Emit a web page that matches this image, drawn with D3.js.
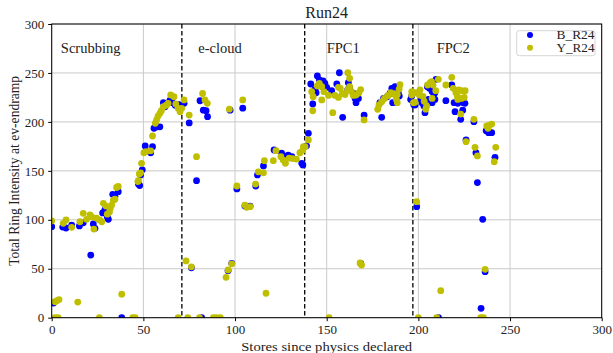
<!DOCTYPE html>
<html><head><meta charset="utf-8">
<script src="https://cdn.jsdelivr.net/npm/d3@7"></script>
<style>body{margin:0;background:#fff}svg{display:block}text{font-family:"Liberation Serif",serif;fill:#222}</style>
</head><body><svg id="c" width="613" height="353"></svg>
<script>
// ---- data ----
const xBlue = [0,1,6,7.8,10.9,15.1,17.2,21.3,22.7,23.6,27.8,29,30.3,30.9,33.3,34.5,36.3,38.2,47.3,48,48.5,49.4,
 51,54,55,55.8,57.6,59,60.9,61.8,64.5,65.8,67.4,69,70.6,72.2,
 75,79,80.9,82.7,84.2,85,97.3,104.2,81.8,76.2,96.2,98.2,101,105.4,108.2,111.3,112.2,115.5,121.3,125.4,126.3,129,131,136.4,137,139,140,
 141.3,142.4,143.6,144.2,144.9,146,147,148,149,150,152.7,155.5,156.9,158.7,161.8,161.5,162.5,164.5,165.5,167.3,166,170.4,168.5,179,180,181,183,184.5,185.5,187.3,186,188,189.6,189,195.8,197.3,198.2,
 196.4,197.6,199.1,201.3,202,203,203.6,204.9,206,207.5,208.5,209,205.5,207.5,209,209.6,211,215,218.2,219.5,221.5,222.5,224.5,225.4,220,224.2,223.1,226,230.3,231.4,232.2,234.2,235.1,236.4,237,238.3,240,241.8];
const yBlue = [93,15,92.6,91.6,94.6,93.7,97,64,95.7,91.3,107,110,103,100.5,126,124,128.7,0,136.6,135,145.8,151,
 175.4,168.5,174.7,193.5,195,195,219.6,215.5,222,219.6,217,218,217,219,
 199,140,221.6,212,211.5,205.3,212,214,0,51,48,55.5,131.5,114,114,134.5,145.8,155,171.3,168,165,166,164.5,157.7,156,175.6,188.3,
 238.7,218.3,233.3,229.8,246.9,242.8,237.7,242,239.4,235.3,231.9,238.7,250.2,204.7,240,233,235,229,224,224,219.6,207,55.5,219.6,204.7,224,225.7,229,234.3,236,219.6,219.6,226.4,229.8,223,219,217.3,
 226.4,217.3,113.4,223,219.6,216.3,209.4,236,234.3,231,228.5,229.8,223,219.6,223,243.5,0,221.7,237.7,219.6,219,220.6,219.6,219,210.4,212,202.6,181.5,200.2,168.5,138,9.6,100.5,47,191,189,189,163.8];
const xYellow = [0,1.8,3,4,1.8,3.5,6.3,7.8,10.9,14.2,15.4,17.2,19,20.9,21.8,23,24.5,26,26,27.3,28.2,29.6,30.3,31.5,32,32.7,33.6,34.5,35.4,36.3,38.2,44.2,45.5,47,47.3,47.8,48.5,49,
 50.3,51.4,54,55,56.5,57.2,58,59,59.8,60.9,62.5,63.5,64.9,66.7,67.7,69,70,70.9,69,
 72.2,73.3,74.2,75,76.2,79,80.6,82.3,83.6,84.9,88.2,90,92,95.1,96.2,96.9,98.2,101,104.2,105.4,106.4,108.2,111.2,112.7,115.5,116,116.9,120.9,122.3,125,126.3,127.5,129.5,131.5,133.5,135.4,136.9,137.3,138.2,140,
 141.8,142.6,142.4,144.9,146,147.3,148.5,147.3,151.3,151,153.3,154.5,156.4,157.4,156.4,158.5,160,161.5,162.5,162.5,161.5,163.5,164.5,166,167.5,168.5,168.2,169,170.4,177.8,178.5,180,181.5,183.1,183.5,185,187,188.5,190,189.5,188.5,188,196.4,198.2,200.5,
 196.4,198.2,197.3,199.1,200,200.9,202.5,203.2,204,204.5,205,206.5,207.2,208,209.5,207.5,210,210.9,212.2,215,218.2,219,220.5,221.3,222,223.5,225.5,221.5,223.5,225,223.1,226,230.3,230.9,232.2,234,235.5,236.4,237.3,238,238.8,240,242.2,241.4];
const yYellow = [98.8,16.3,17.5,18.5,0,0,96.4,99.8,92.3,16,98,106.6,100.5,105,103,90.5,101.6,100,0,98,116.8,114,105.7,108,112,115,120,121,133,134,24,0,0,139,140,146.8,148,157.7,
 168.5,169.6,170.5,185.6,198.6,202,206,208.8,211.4,215.5,217,219,227.5,225.7,218.3,213.9,210.4,213.9,0,
 222.4,58,0,207,52,164.5,0,229,222.4,219,0,0,0,41.2,48.7,213,55,134.5,222.4,115,112.8,113.4,136.5,149,148,160.4,25,160.4,170.6,164.5,161,157.7,163,162.5,162,168.5,171,174.7,174.7,181.6,
 230.9,225.7,211.4,236.7,239.4,236,230.9,222.4,0,227,209.4,227,235.3,234.3,225,229,228,250.2,244.5,236,232.6,231,227,227.5,229.5,233,56,53.8,202,212.8,217.3,220.6,224,226.4,227,230,228,228,238,233.5,219.6,223,227.5,220,227.5,
 231,230,219.6,118.5,0,232.6,226,221,213,216,237.7,240,241,237.7,231.9,224,0,243.5,27.6,237.7,245.5,234.3,229.8,225.7,232.6,231.9,231.9,223,224,225,208,179.8,202.6,174,165.2,0,0,49.4,195.8,193.5,196.8,197.8,174,159.3];
const phaseNames = ["Scrubbing","e-cloud","FPC1","FPC2"];
const phaseStart = [5,80,150,210];
const phaseBounds = [71,138,197];
const xTicks = [0,50,100,150,200,250,300];
const yTicks = [0,50,100,150,200,250,300];
const seriesNames = ["B_R24","Y_R24"];
const seriesColors = ["#0000ff","#bfbf00"];

// ---- chart ----
const svg = d3.select("#c");
const L=51.7,R=601.7,T=24,B=317.7;
const x = d3.scaleLinear().domain([0,300]).range([L,R]);
const y = d3.scaleLinear().domain([0,300]).range([B,T]);

svg.append("defs").append("clipPath").attr("id","clip")
  .append("rect").attr("x",L).attr("y",T).attr("width",R-L).attr("height",B-T);

// grid
const g = svg.append("g");
g.selectAll(".gx").data(xTicks).join("line")
  .attr("x1",d=>x(d)).attr("x2",d=>x(d)).attr("y1",T).attr("y2",B)
  .attr("stroke","#c9c9c9").attr("stroke-width",1);
g.selectAll(".gy").data(yTicks).join("line")
  .attr("x1",L).attr("x2",R).attr("y1",d=>y(d)).attr("y2",d=>y(d))
  .attr("stroke","#c9c9c9").attr("stroke-width",1);

// dashed phase boundaries
g.selectAll(".pb").data(phaseBounds).join("line")
  .attr("x1",d=>x(d)).attr("x2",d=>x(d)).attr("y1",T).attr("y2",B)
  .attr("stroke","#000").attr("stroke-width",1.3).attr("stroke-dasharray","4.5,2.5");

// points
const pts = svg.append("g").attr("clip-path","url(#clip)");
pts.selectAll(".b").data(xBlue.map((v,i)=>[v,yBlue[i]])).join("circle")
  .attr("cx",d=>x(d[0])).attr("cy",d=>y(d[1])).attr("r",3.4).attr("fill",seriesColors[0]);
pts.selectAll(".yy").data(xYellow.map((v,i)=>[v,yYellow[i]])).join("circle")
  .attr("cx",d=>x(d[0])).attr("cy",d=>y(d[1])).attr("r",3.4).attr("fill",seriesColors[1]);

// phase labels
svg.selectAll(".pl").data(phaseNames).join("text")
  .attr("x",(d,i)=>x(phaseStart[i])).attr("y",y(270))
  .attr("font-size",14.5).text(d=>d);

// axes
const ax = svg.append("g").attr("transform",`translate(0,${B})`)
  .call(d3.axisBottom(x).tickValues(xTicks).tickSize(3.5).tickPadding(3.5).tickFormat(d3.format("d")));
const ay = svg.append("g").attr("transform",`translate(${L},0)`)
  .call(d3.axisLeft(y).tickValues(yTicks).tickSize(3.5).tickPadding(4).tickFormat(d3.format("d")));
[ax,ay].forEach(a=>{
  a.select(".domain").remove();
  a.selectAll("text").attr("font-family","Liberation Serif").attr("font-size",13).attr("fill","#222");
  a.selectAll("line").attr("stroke","#000");
});

// frame
svg.append("rect").attr("x",L).attr("y",T).attr("width",R-L).attr("height",B-T)
  .attr("fill","none").attr("stroke","#000").attr("stroke-width",1);

// title and axis labels
svg.append("text").attr("x",(L+R)/2).attr("y",18).attr("text-anchor","middle")
  .attr("font-size",16).text("Run24");
svg.append("text").attr("x",(L+R)/2).attr("y",350.5).attr("text-anchor","middle")
  .attr("font-size",13.5).attr("textLength",171).attr("lengthAdjust","spacingAndGlyphs")
  .text("Stores since physics declared");
svg.append("text").attr("transform",`translate(18.5,${(T+B)/2}) rotate(-90)`).attr("text-anchor","middle")
  .attr("font-size",14.5).attr("textLength",190).attr("lengthAdjust","spacingAndGlyphs")
  .text("Total Ring Intensity at ev-endramp");

// legend
const lg = svg.append("g");
lg.append("rect").attr("x",516.7).attr("y",30.7).attr("width",78.3).attr("height",25).attr("rx",2.5)
  .attr("fill","#fff").attr("fill-opacity",0.8).attr("stroke","#d5d5d5").attr("stroke-width",1);
seriesNames.forEach((n,i)=>{
  lg.append("circle").attr("cx",530).attr("cy",35+i*12.7).attr("r",3).attr("fill",seriesColors[i]);
  lg.append("text").attr("x",594.5).attr("y",39.2+i*12.9).attr("text-anchor","end")
    .attr("font-size",12).attr("textLength",38).attr("lengthAdjust","spacingAndGlyphs").text(n);
});
</script></body></html>
